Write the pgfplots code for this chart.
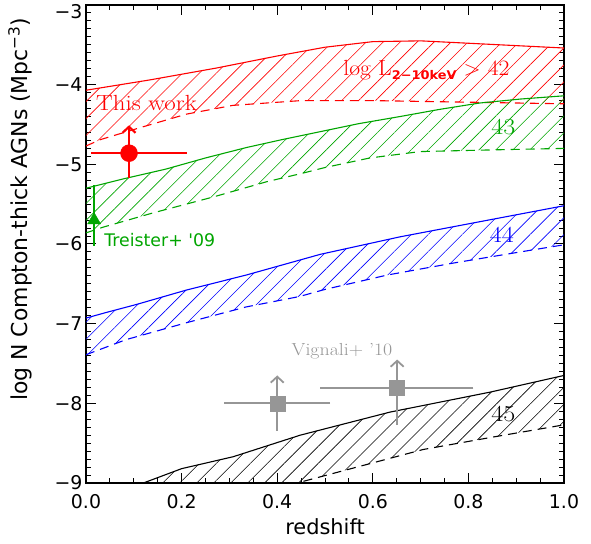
\documentclass[border=0pt]{standalone}
\usepackage{fontspec}
\usepackage{pgfplots}
\usepackage{pgfplotstable}
\pgfplotsset{compat=1.18}
\usepgfplotslibrary{fillbetween}
\usetikzlibrary{patterns.meta, arrows.meta}
\newfontfamily\dejavu{DejaVu Sans}
\definecolor{cgreen}{RGB}{0,165,0}
\definecolor{cgray}{RGB}{150,150,150}
\newcommand{\wide}[1]{\scalebox{1.14}[1]{#1}}

\pgfplotstableread{
x y
0.00 -4.07
0.134 -3.94
0.274 -3.79
0.40 -3.64
0.50 -3.53
0.60 -3.46
0.70 -3.45
0.80 -3.48
0.90 -3.51
1.00 -3.54
}\redup
\pgfplotstableread{
x y
0.00 -4.77
0.03 -4.69
0.113 -4.54
0.21 -4.37
0.307 -4.26
0.45 -4.20
0.60 -4.20
0.80 -4.22
1.00 -4.24
}\redlo
\pgfplotstableread{
x y
0.00 -5.30
0.08 -5.18
0.167 -5.06
0.25 -4.92
0.335 -4.79
0.41 -4.69
0.49 -4.59
0.57 -4.49
0.657 -4.40
0.74 -4.31
0.824 -4.23
0.91 -4.18
1.00 -4.14
}\greenup
\pgfplotstableread{
x y
0.00 -5.86
0.035 -5.79
0.14 -5.61
0.266 -5.41
0.377 -5.22
0.454 -5.11
0.50 -5.04
0.594 -4.92
0.699 -4.84
0.84 -4.82
1.00 -4.80
}\greenlo
\pgfplotstableread{
x y
0.00 -6.93
0.042 -6.86
0.105 -6.76
0.209 -6.58
0.335 -6.39
0.49 -6.13
0.657 -5.91
0.824 -5.72
1.00 -5.52
}\blueup
\pgfplotstableread{
x y
0.00 -7.39
0.084 -7.20
0.209 -6.99
0.335 -6.79
0.446 -6.66
0.50 -6.57
0.63 -6.39
0.768 -6.24
0.908 -6.10
1.00 -6.01
}\bluelo
\pgfplotstableread{
x y
0.00 -9.25
0.12 -9.00
0.20 -8.82
0.308 -8.67
0.448 -8.40
0.636 -8.11
0.845 -7.86
1.00 -7.65
}\blackup
\pgfplotstableread{
x y
0.00 -9.70
0.20 -9.35
0.448 -8.99
0.567 -8.80
0.705 -8.58
0.845 -8.43
1.00 -8.27
}\blacklo

\begin{document}
\begin{tikzpicture}
\begin{axis}[
  width=478bp, height=478bp, scale only axis,
  xmin=0, xmax=1, ymin=-9, ymax=-3,
  xtick={0,0.2,0.4,0.6,0.8,1}, xticklabels={0.0,0.2,0.4,0.6,0.8,1.0},
  ytick={-9,-8,-7,-6,-5,-4,-3},
  yticklabels={−9,−8,−7,−6,−5,−4,\raisebox{-7bp}[\height][\depth]{−3}},
  minor x tick num=3, minor y tick num=9,
  tick align=inside, major tick length=10bp, minor tick length=5bp,
  tick style={black, line width=1bp},
  axis line style={line width=1.3bp},
  tick label style={font=\dejavu\fontsize{19}{19}\selectfont},
  xticklabel style={yshift=-8bp},
  xlabel={redshift},
  ylabel={log N Compton-thick AGNs (Mpc\textsuperscript{−3})},
  xlabel style={font=\dejavu\fontsize{21}{21}\selectfont, at={(rel axis cs:0.5,-0.092)}, anchor=center},
  ylabel style={font=\dejavu\fontsize{22}{22}\selectfont, at={(rel axis cs:-0.138,0.573)}, anchor=center},
  clip=true,
]
% red band
\addplot[name path=ru, red, line width=1.1bp] table {\redup};
\addplot[name path=rl, red, line width=1.1bp, dash pattern=on 9bp off 6bp] table {\redlo};
\addplot[draw=none, pattern={Lines[angle=45,distance=12bp,line width=0.6bp]}, pattern color=red] fill between[of=ru and rl];
% green band
\addplot[name path=gu, cgreen, line width=1.1bp] table {\greenup};
\addplot[name path=gl, cgreen, line width=1.1bp, dash pattern=on 9bp off 6bp] table {\greenlo};
\addplot[draw=none, pattern={Lines[angle=45,distance=12bp,line width=0.6bp]}, pattern color=cgreen] fill between[of=gu and gl];
% blue band
\addplot[name path=bu, blue, line width=1.1bp] table {\blueup};
\addplot[name path=bl, blue, line width=1.1bp, dash pattern=on 9bp off 6bp] table {\bluelo};
\addplot[draw=none, pattern={Lines[angle=45,distance=12bp,line width=0.6bp]}, pattern color=blue] fill between[of=bu and bl];
% black band
\addplot[name path=ku, black, line width=1.1bp] table {\blackup};
\addplot[name path=kl, black, line width=1.1bp, dash pattern=on 9bp off 6bp] table {\blacklo};
\addplot[draw=none, pattern={Lines[angle=45,distance=12bp,line width=0.6bp]}, pattern color=black] fill between[of=ku and kl];

% This work
\addplot[red, line width=2.2bp, -{Straight Barb[length=6bp,width=13bp]}] coordinates {(0.09,-4.86) (0.09,-4.51)};
\addplot[red, only marks, mark=*, mark size=8.5bp,
  error bars/.cd, x dir=both, x explicit, y dir=minus, y explicit,
  error bar style={line width=2.2bp},
  error mark options={line width=2.2bp, mark size=5bp}]
  coordinates {(0.09,-4.86) += (0.11,0) -= (0.069,0.25)};
% Treister+ 09
\addplot[cgreen, only marks, mark=triangle*, mark size=7.5bp,
  error bars/.cd, y dir=both, y explicit,
  error bar style={line width=1.5bp},
  error mark options={line width=1.5bp, mark size=4bp}]
  coordinates {(0.017,-5.70) += (0,0.39) -= (0,0.27)};
% Vignali+ 10
\addplot[cgray, line width=1.8bp, -{Straight Barb[length=6bp,width=13bp]}] coordinates {(0.40,-8.00) (0.40,-7.65)};
\addplot[cgray, line width=1.8bp, -{Straight Barb[length=6bp,width=13bp]}] coordinates {(0.651,-7.81) (0.651,-7.45)};
\addplot[cgray, only marks, mark=square*, mark size=7.5bp,
  error bars/.cd, x dir=both, x explicit, y dir=minus, y explicit,
  error bar style={line width=1.8bp},
  error mark options={line width=1.8bp, mark size=5bp}]
  coordinates {(0.40,-8.00) += (0.10,0) -= (0.10,0.28) (0.651,-7.81) += (0.149,0) -= (0.151,0.40)};

% labels
\node[red, anchor=west, inner sep=0pt, font=\fontsize{22}{22}\selectfont] at (axis cs:0.021,-4.23) {\wide{This work}};
\node[red, anchor=west, inner sep=0pt, font=\fontsize{22}{22}\selectfont] at (axis cs:0.538,-3.82) {\scalebox{1.08}[1]{log L\raisebox{-0.45ex}{\dejavu\bfseries\fontsize{12}{12}\selectfont 2−10keV} $>$ 42}};
\node[cgreen, anchor=west, inner sep=0pt, font=\dejavu\fontsize{17.4}{17.4}\selectfont] at (axis cs:0.038,-5.95) {Treister+ '09};
\node[cgray, anchor=west, inner sep=0pt, font=\fontsize{17.5}{17.5}\selectfont] at (axis cs:0.43,-7.35) {\wide{Vignali+ '10}};
\node[cgreen, font=\fontsize{23}{23}\selectfont] at (axis cs:0.873,-4.53) {\wide{43}};
\node[blue, font=\fontsize{23}{23}\selectfont] at (axis cs:0.87,-5.89) {\wide{44}};
\node[black, font=\fontsize{23}{23}\selectfont] at (axis cs:0.873,-8.13) {\wide{45}};
\end{axis}
\pgfresetboundingbox
\path[use as bounding box] ([shift={(-86bp,-61bp)}]current axis.south west) rectangle ([shift={(27bp,5bp)}]current axis.north east);
\end{tikzpicture}
\end{document}
